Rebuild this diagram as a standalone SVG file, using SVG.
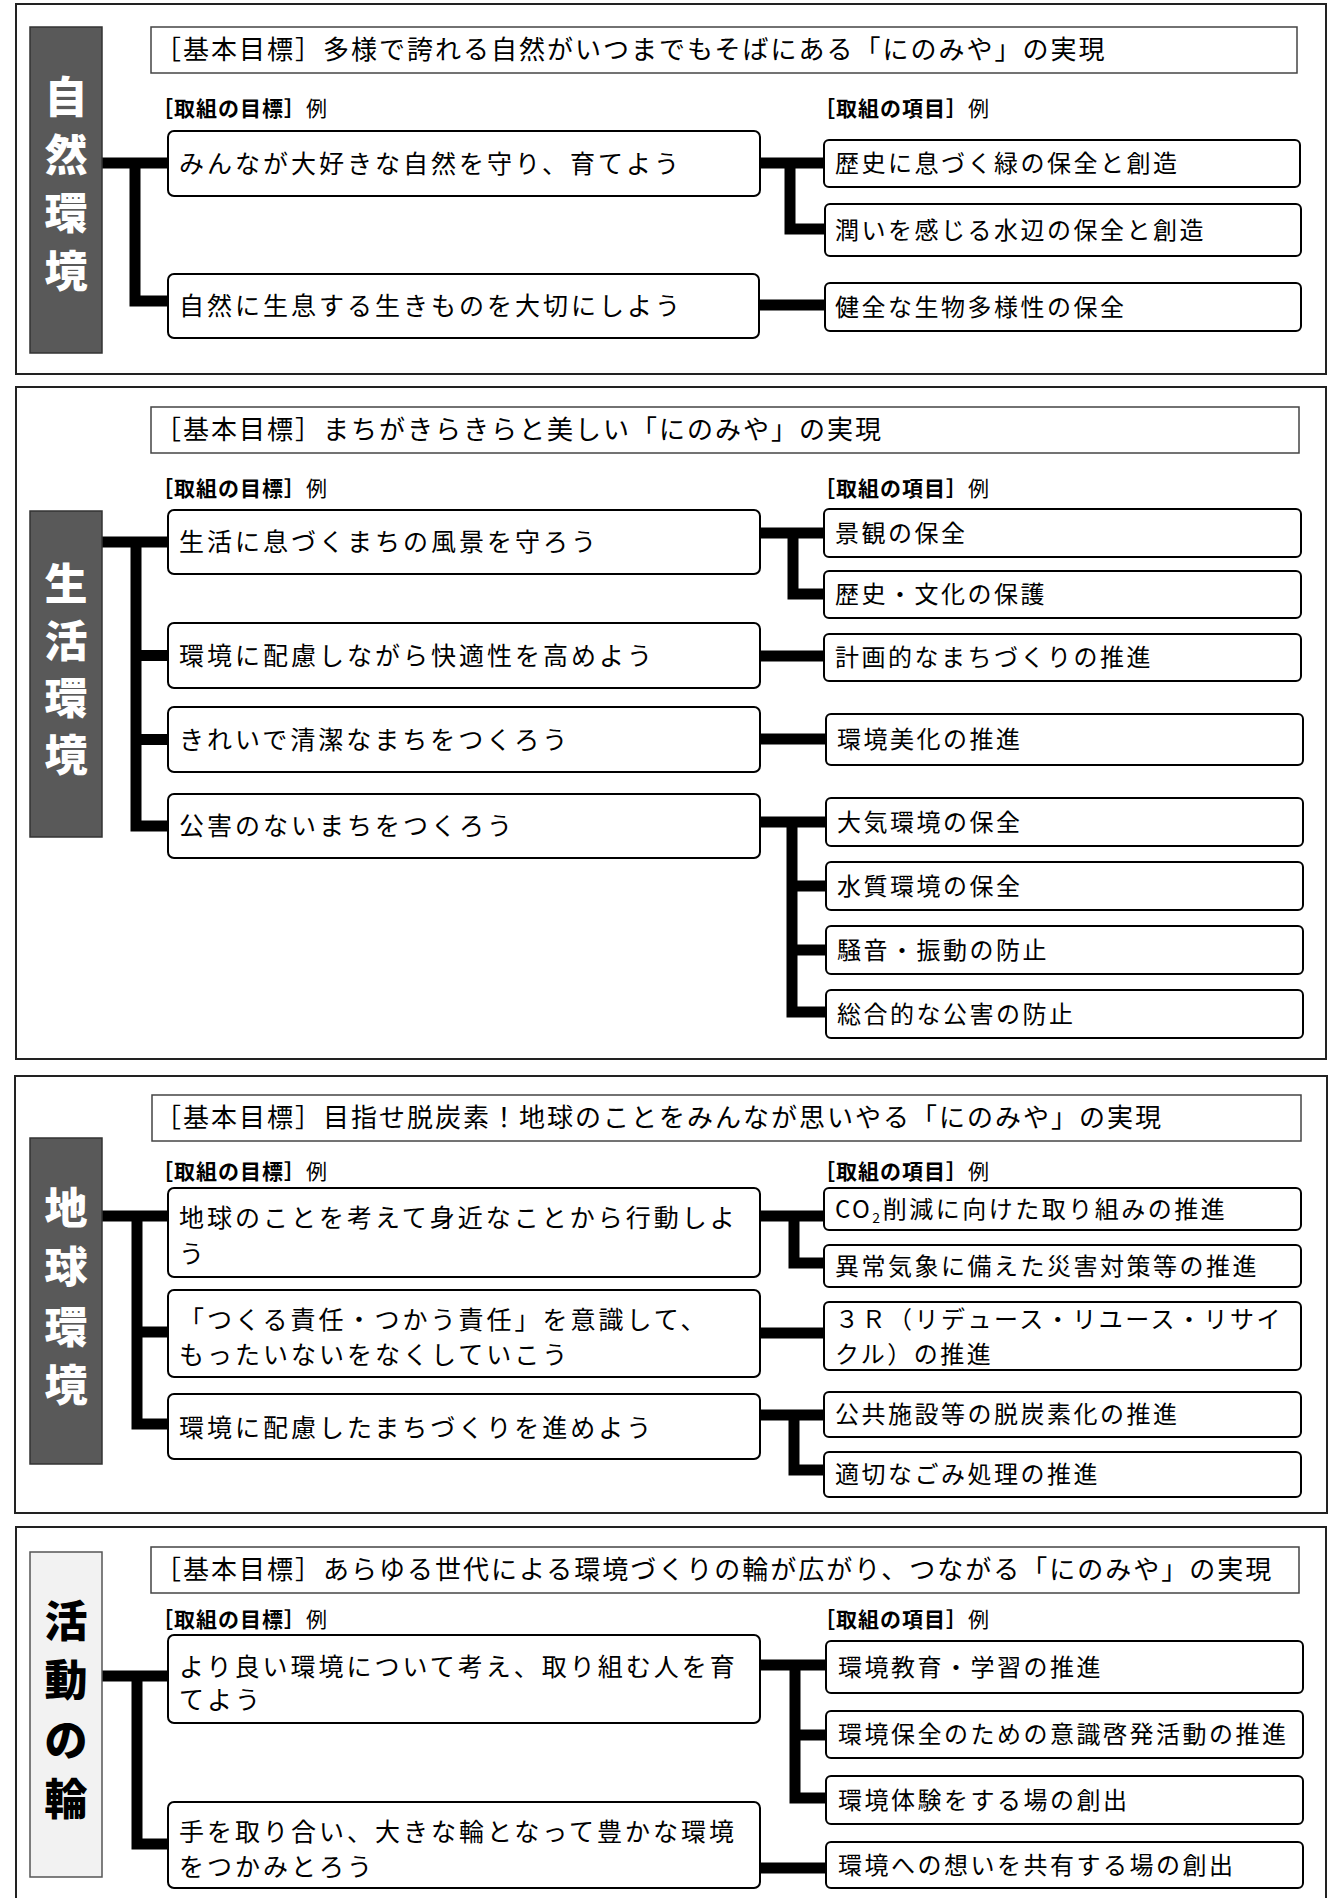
<svg xmlns="http://www.w3.org/2000/svg" width="1335" height="1898" viewBox="0 0 1335 1898">
<style>
text{font-family:"Noto Sans CJK JP","Noto Sans CJK SC",sans-serif;fill:#000}
.frame{fill:#fff;stroke:#222;stroke-width:2}
.side{fill:#595959;stroke:#333;stroke-width:1.5}
.side2{fill:#f2f2f2;stroke:#555;stroke-width:1.5}
.st{font-size:43px;font-weight:900;fill:#fff;text-anchor:middle}
.st2{font-size:43px;font-weight:900;fill:#000;text-anchor:middle}
.hdr{fill:#fff;stroke:#444;stroke-width:1.5}
.ht{font-size:26px;letter-spacing:2px}
.lab{font-size:21px;letter-spacing:1px}
.lab .b{font-weight:700}
.box{fill:#fff;stroke:#000;stroke-width:2}
.gt{font-size:25px;letter-spacing:3px}
.it{font-size:24px;letter-spacing:2.5px}
.conn path{fill:none;stroke:#000;stroke-width:11;stroke-linejoin:miter;stroke-linecap:butt}
</style>

<!-- Section frames -->
<rect class="frame" x="16" y="4" width="1310" height="370"/>
<rect class="frame" x="16" y="387" width="1310" height="672"/>
<rect class="frame" x="15" y="1076" width="1312" height="437"/>
<rect class="frame" x="16" y="1527" width="1310" height="390"/>

<g class="conn" id="connectors">
  <!-- section 1 -->
  <path d="M102,163 H168"/>
  <path d="M135,163 V301 H168"/>
  <path d="M760,163 H824"/>
  <path d="M790,163 V229 H825"/>
  <path d="M759,305 H825"/>
  <!-- section 2 -->
  <path d="M102,542 H168"/>
  <path d="M136,542 V826 H168"/>
  <path d="M136,655.5 H168"/>
  <path d="M136,739.5 H168"/>
  <path d="M760,533 H824"/>
  <path d="M793,533 V594 H824"/>
  <path d="M760,656 H824"/>
  <path d="M760,739 H826"/>
  <path d="M760,822 H826"/>
  <path d="M792,822 V1012 H826"/>
  <path d="M792,886 H826"/>
  <path d="M792,950 H826"/>
  <!-- section 3 -->
  <path d="M102,1216 H168"/>
  <path d="M137,1216 V1424 H168"/>
  <path d="M137,1332 H168"/>
  <path d="M760,1216 H824"/>
  <path d="M794,1216 V1263 H824"/>
  <path d="M760,1333 H824"/>
  <path d="M760,1415 H824"/>
  <path d="M794,1415 V1470 H824"/>
  <!-- section 4 -->
  <path d="M102,1676 H168"/>
  <path d="M137,1676 V1844 H168"/>
  <path d="M760,1665 H826"/>
  <path d="M795,1665 V1798 H826"/>
  <path d="M795,1735 H826"/>
  <path d="M760,1868 H826"/>
</g>

<!-- ===== Section 1 ===== -->
<g id="s1-side">
  <rect class="side" x="30" y="27" width="72" height="326"/>
  <text class="st" x="66" y="113">自</text>
  <text class="st" x="66" y="171">然</text>
  <text class="st" x="66" y="229">環</text>
  <text class="st" x="66" y="287">境</text>
</g>
<g id="s1-header">
  <rect class="hdr" x="151" y="27" width="1146" height="46"/>
  <text class="ht" x="155" y="59">［基本目標］多様で誇れる自然がいつまでもそばにある「にのみや」の実現</text>
</g>
<text class="lab" x="152" y="116"><tspan class="b">［取組の目標］</tspan>例</text>
<text class="lab" x="814" y="116"><tspan class="b">［取組の項目］</tspan>例</text>
<g id="s1-g1"><rect class="box" x="168" y="131" width="592" height="65" rx="6"/><text class="gt" x="179" y="173">みんなが大好きな自然を守り、育てよう</text></g>
<g id="s1-g2"><rect class="box" x="168" y="274" width="591" height="64" rx="6"/><text class="gt" x="179" y="315">自然に生息する生きものを大切にしよう</text></g>
<g id="s1-i1"><rect class="box" x="824" y="140" width="476" height="47" rx="5"/><text class="it" x="835" y="172">歴史に息づく緑の保全と創造</text></g>
<g id="s1-i2"><rect class="box" x="825" y="204" width="476" height="52" rx="5"/><text class="it" x="835" y="238.5">潤いを感じる水辺の保全と創造</text></g>
<g id="s1-i3"><rect class="box" x="825" y="283" width="476" height="48" rx="5"/><text class="it" x="835" y="315.5">健全な生物多様性の保全</text></g>

<!-- ===== Section 2 ===== -->
<g id="s2-side">
  <rect class="side" x="30" y="511" width="72" height="326"/>
  <text class="st" x="66" y="600">生</text>
  <text class="st" x="66" y="657">活</text>
  <text class="st" x="66" y="714">環</text>
  <text class="st" x="66" y="771">境</text>
</g>
<g id="s2-header">
  <rect class="hdr" x="151" y="407" width="1148" height="46"/>
  <text class="ht" x="155" y="439">［基本目標］まちがきらきらと美しい「にのみや」の実現</text>
</g>
<text class="lab" x="152" y="496"><tspan class="b">［取組の目標］</tspan>例</text>
<text class="lab" x="814" y="496"><tspan class="b">［取組の項目］</tspan>例</text>
<g id="s2-g1"><rect class="box" x="168" y="510" width="592" height="64" rx="6"/><text class="gt" x="179" y="551">生活に息づくまちの風景を守ろう</text></g>
<g id="s2-g2"><rect class="box" x="168" y="623" width="592" height="65" rx="6"/><text class="gt" x="179" y="664.5">環境に配慮しながら快適性を高めよう</text></g>
<g id="s2-g3"><rect class="box" x="168" y="707" width="592" height="65" rx="6"/><text class="gt" x="179" y="748.5">きれいで清潔なまちをつくろう</text></g>
<g id="s2-g4"><rect class="box" x="168" y="794" width="592" height="64" rx="6"/><text class="gt" x="179" y="835">公害のないまちをつくろう</text></g>
<g id="s2-i1"><rect class="box" x="824" y="509" width="477" height="48" rx="5"/><text class="it" x="835" y="541.5">景観の保全</text></g>
<g id="s2-i2"><rect class="box" x="824" y="571" width="477" height="47" rx="5"/><text class="it" x="835" y="603">歴史・文化の保護</text></g>
<g id="s2-i3"><rect class="box" x="824" y="634" width="477" height="47" rx="5"/><text class="it" x="835" y="666">計画的なまちづくりの推進</text></g>
<g id="s2-i4"><rect class="box" x="826" y="714" width="477" height="51" rx="5"/><text class="it" x="837" y="748">環境美化の推進</text></g>
<g id="s2-i5"><rect class="box" x="826" y="798" width="477" height="48" rx="5"/><text class="it" x="837" y="830.5">大気環境の保全</text></g>
<g id="s2-i6"><rect class="box" x="826" y="862" width="477" height="48" rx="5"/><text class="it" x="837" y="894.5">水質環境の保全</text></g>
<g id="s2-i7"><rect class="box" x="826" y="926" width="477" height="48" rx="5"/><text class="it" x="837" y="958.5">騒音・振動の防止</text></g>
<g id="s2-i8"><rect class="box" x="826" y="990" width="477" height="48" rx="5"/><text class="it" x="837" y="1022.5">総合的な公害の防止</text></g>

<!-- ===== Section 3 ===== -->
<g id="s3-side">
  <rect class="side" x="30" y="1138" width="72" height="326"/>
  <text class="st" x="66" y="1224">地</text>
  <text class="st" x="66" y="1283">球</text>
  <text class="st" x="66" y="1343">環</text>
  <text class="st" x="66" y="1401">境</text>
</g>
<g id="s3-header">
  <rect class="hdr" x="152" y="1095" width="1149" height="46"/>
  <text class="ht" x="155" y="1127">［基本目標］目指せ脱炭素！地球のことをみんなが思いやる「にのみや」の実現</text>
</g>
<text class="lab" x="152" y="1179"><tspan class="b">［取組の目標］</tspan>例</text>
<text class="lab" x="814" y="1179"><tspan class="b">［取組の項目］</tspan>例</text>
<g id="s3-g1"><rect class="box" x="168" y="1188" width="592" height="89" rx="6"/><text class="gt" x="179" y="1227">地球のことを考えて身近なことから行動しよ</text><text class="gt" x="179" y="1263">う</text></g>
<g id="s3-g2"><rect class="box" x="168" y="1290" width="592" height="87" rx="6"/><text class="gt" x="179" y="1329">「つくる責任・つかう責任」を意識して、</text><text class="gt" x="179" y="1364">もったいないをなくしていこう</text></g>
<g id="s3-g3"><rect class="box" x="168" y="1394" width="592" height="65" rx="6"/><text class="gt" x="179" y="1437">環境に配慮したまちづくりを進めよう</text></g>
<g id="s3-i1"><rect class="box" x="824" y="1188" width="477" height="42" rx="5"/><text class="it" x="835" y="1217.5">CO<tspan font-size="14" dy="5">2</tspan><tspan dy="-5">削減に向けた取り組みの推進</tspan></text></g>
<g id="s3-i2"><rect class="box" x="824" y="1245" width="477" height="42" rx="5"/><text class="it" x="835" y="1274.5">異常気象に備えた災害対策等の推進</text></g>
<g id="s3-i3"><rect class="box" x="824" y="1302" width="477" height="68" rx="5"/><text class="it" x="835" y="1328">３Ｒ（リデュース・リユース・リサイ</text><text class="it" x="835" y="1363">クル）の推進</text></g>
<g id="s3-i4"><rect class="box" x="824" y="1392" width="477" height="45" rx="5"/><text class="it" x="835" y="1423">公共施設等の脱炭素化の推進</text></g>
<g id="s3-i5"><rect class="box" x="824" y="1452" width="477" height="45" rx="5"/><text class="it" x="835" y="1483">適切なごみ処理の推進</text></g>

<!-- ===== Section 4 ===== -->
<g id="s4-side">
  <rect class="side2" x="30" y="1552" width="72" height="325"/>
  <text class="st2" x="66" y="1637">活</text>
  <text class="st2" x="66" y="1696">動</text>
  <text class="st2" x="66" y="1756">の</text>
  <text class="st2" x="66" y="1815">輪</text>
</g>
<g id="s4-header">
  <rect class="hdr" x="151" y="1547" width="1148" height="46"/>
  <text class="ht" x="155" y="1579">［基本目標］あらゆる世代による環境づくりの輪が広がり、つながる「にのみや」の実現</text>
</g>
<text class="lab" x="152" y="1627"><tspan class="b">［取組の目標］</tspan>例</text>
<text class="lab" x="814" y="1627"><tspan class="b">［取組の項目］</tspan>例</text>
<g id="s4-g1"><rect class="box" x="168" y="1635" width="592" height="88" rx="6"/><text class="gt" x="179" y="1676">より良い環境について考え、取り組む人を育</text><text class="gt" x="179" y="1709">てよう</text></g>
<g id="s4-g2"><rect class="box" x="168" y="1802" width="592" height="86" rx="6"/><text class="gt" x="179" y="1841">手を取り合い、大きな輪となって豊かな環境</text><text class="gt" x="179" y="1876">をつかみとろう</text></g>
<g id="s4-i1"><rect class="box" x="826" y="1641" width="477" height="52" rx="5"/><text class="it" x="838" y="1675.5">環境教育・学習の推進</text></g>
<g id="s4-i2"><rect class="box" x="826" y="1711" width="477" height="47" rx="5"/><text class="it" x="838" y="1743">環境保全のための意識啓発活動の推進</text></g>
<g id="s4-i3"><rect class="box" x="826" y="1776" width="477" height="48" rx="5"/><text class="it" x="838" y="1808.5">環境体験をする場の創出</text></g>
<g id="s4-i4"><rect class="box" x="826" y="1842" width="477" height="46" rx="5"/><text class="it" x="838" y="1873.5">環境への想いを共有する場の創出</text></g>
</svg>
